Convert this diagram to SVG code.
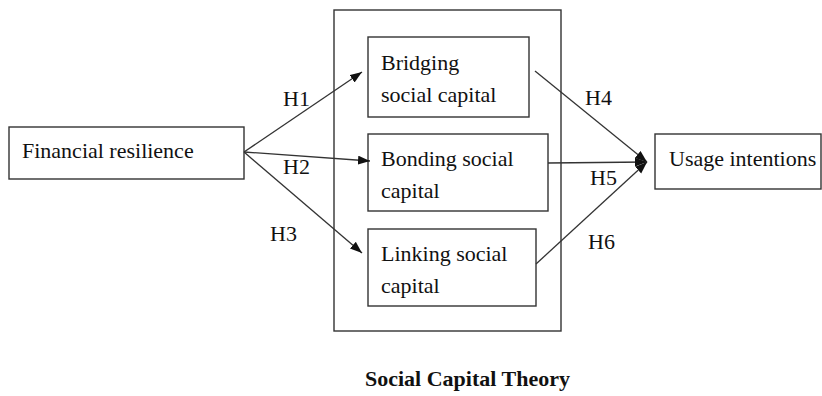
<svg xmlns="http://www.w3.org/2000/svg" width="822" height="396" viewBox="0 0 822 396">
<style>
.box{fill:#fff;stroke:#333;stroke-width:1.4}
.t{font-family:"Liberation Serif","Times New Roman",serif;font-size:22px;fill:#111}
.title{font-family:"Liberation Serif","Times New Roman",serif;font-size:22px;font-weight:bold;fill:#111}
.c{stroke:#333;stroke-width:1.3;fill:none;marker-end:url(#ah)}
</style>
<defs>
<marker id="ah" markerUnits="userSpaceOnUse" markerWidth="13" markerHeight="10" refX="12" refY="4.5" orient="auto">
<path d="M0,0 L12,4.5 L0,9 z" fill="#111"/>
</marker>
</defs>
<rect width="822" height="396" fill="#fff"/>
<g id="theory">
<rect class="box" x="334" y="10" width="227" height="321" fill="none"/>
<text class="title" x="365" y="386">Social Capital Theory</text>
</g>
<g id="financial">
<rect class="box" x="9" y="127" width="235" height="52"/>
<text class="t" x="22" y="158">Financial resilience</text>
</g>
<g id="bridging">
<rect class="box" x="368" y="37" width="161" height="80"/>
<text class="t" x="381" y="70">Bridging</text>
<text class="t" x="381" y="102">social capital</text>
</g>
<g id="bonding">
<rect class="box" x="368" y="134" width="180" height="77"/>
<text class="t" x="381" y="166">Bonding social</text>
<text class="t" x="381" y="198">capital</text>
</g>
<g id="linking">
<rect class="box" x="368" y="229" width="168" height="77"/>
<text class="t" x="381" y="261">Linking social</text>
<text class="t" x="381" y="293">capital</text>
</g>
<g id="usage">
<rect class="box" x="655" y="134" width="166" height="55"/>
<text class="t" x="669" y="166">Usage intentions</text>
</g>
<g id="connectors">
<line class="c" x1="244" y1="152" x2="362" y2="72"/>
<line class="c" x1="244" y1="152" x2="370" y2="161"/>
<line class="c" x1="244" y1="152" x2="362" y2="253"/>
<line class="c" x1="535" y1="71" x2="647" y2="162"/>
<line class="c" x1="548" y1="163" x2="647" y2="162"/>
<line class="c" x1="536" y1="264" x2="647" y2="162"/>
<text class="t" x="283" y="106">H1</text>
<text class="t" x="283" y="174">H2</text>
<text class="t" x="270" y="241">H3</text>
<text class="t" x="585" y="105">H4</text>
<text class="t" x="590" y="185">H5</text>
<text class="t" x="588" y="249">H6</text>
</g>
</svg>
